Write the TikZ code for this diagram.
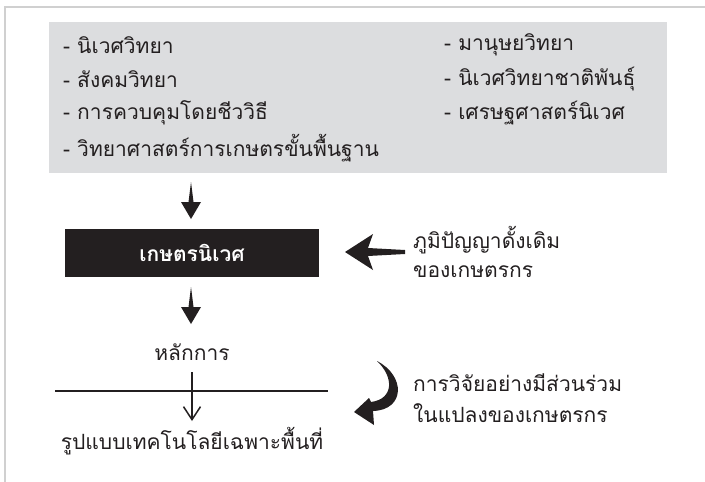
\documentclass[tikz,border=0pt]{standalone}
\usepackage{fontspec}
\newfontfamily\thaifont[Script=Thai]{Loma}
\usetikzlibrary{arrows.meta}
\definecolor{boxgray}{HTML}{DCDDDF}
\definecolor{framegray}{HTML}{D0D0D0}
\definecolor{ink}{HTML}{231F20}
\tikzset{
  item/.style={anchor=west, inner sep=0pt, font=\thaifont\fontsize{21}{24}\selectfont, text=ink},
  lbl/.style={inner sep=0pt, font=\thaifont\fontsize{21}{24}\selectfont, text=ink},
  blackbox/.style={fill=ink, minimum width=254pt, minimum height=48pt, inner sep=0pt, text=white, font=\thaifont\bfseries\fontsize{21}{24}\selectfont},
  solidarrow/.style={fill=ink, draw=none}
}
\begin{document}
\begin{tikzpicture}[x=1pt,y=-1pt]
\useasboundingbox (0,0) rectangle (705,482);
% frame
\draw[framegray, line width=1.2pt] (5,482) -- (5,7) -- (705,7);
% gray box
\fill[boxgray] (49,22) rectangle (667,173);
\node[item] (l1) at (63,45) {- นิเวศวิทยา};
\node[item] (l2) at (63,79) {- สังคมวิทยา};
\node[item] (l3) at (63,113) {- การควบคุมโดยชีววิธี};
\node[item] (l4) at (63,148) {- วิทยาศาสตร์การเกษตรขั้นพื้นฐาน};
\node[item] (r1) at (444,45) {- มานุษยวิทยา};
\node[item] (r2) at (444,79) {- นิเวศวิทยาชาติพันธุ์};
\node[item] (r3) at (444,113) {- เศรษฐศาสตร์นิเวศ};
% arrow 1
\coordinate (a1) at (191,182);
\fill[solidarrow] (a1) -- ++(2.5,20) -- ++(7.5,0) -- (191,219) -- (181,202) -- (188.5,202) -- cycle;
% black box
\node[blackbox] (kn) at (192,253) {เกษตรนิเวศ};
% left arrow
\coordinate (la) at (345,252);
\fill[solidarrow] (la) -- (373,234) -- (368,248) -- (405,250) -- (405,254) -- (368,256) -- (373,270) -- cycle;
\node[lbl, anchor=west] (w1) at (413,240) {ภูมิปัญญาดั้งเดิม};
\node[lbl, anchor=west] (w2) at (413,272) {ของเกษตรกร};
% arrow 2
\coordinate (a2) at (191,287);
\fill[solidarrow] (a2) -- ++(2.5,20) -- ++(7.5,0) -- (191,324) -- (181,307) -- (188.5,307) -- cycle;
\node[lbl] (hk) at (192,352) {หลักการ};
% line
\coordinate (h1) at (55,391);
\coordinate (h2) at (328,391);
\draw[ink, line width=2.3pt] (h1) -- (h2);
% thin arrow
\coordinate (t1) at (192,372);
\coordinate (t2) at (192,421);
\draw[ink, line width=1.5pt, -{Straight Barb[length=13pt,width=17pt,line width=1.5pt]}] (t1) -- (t2);
\node[lbl] (rb) at (192,441) {รูปแบบเทคโนโลยีเฉพาะพื้นที่};
% curved arrow
\fill[solidarrow] (377,361) .. controls (406,376) and (405,410) .. (373,411)
  -- (374,425) -- (354,412) -- (369,398) -- (371,402)
  .. controls (394,399) and (394,377) .. (377,361) -- cycle;
\node[lbl, anchor=west] (p1) at (413,383) {การวิจัยอย่างมีส่วนร่วม};
\node[lbl, anchor=west] (p2) at (413,413) {ในแปลงของเกษตรกร};
\end{tikzpicture}
\end{document}
